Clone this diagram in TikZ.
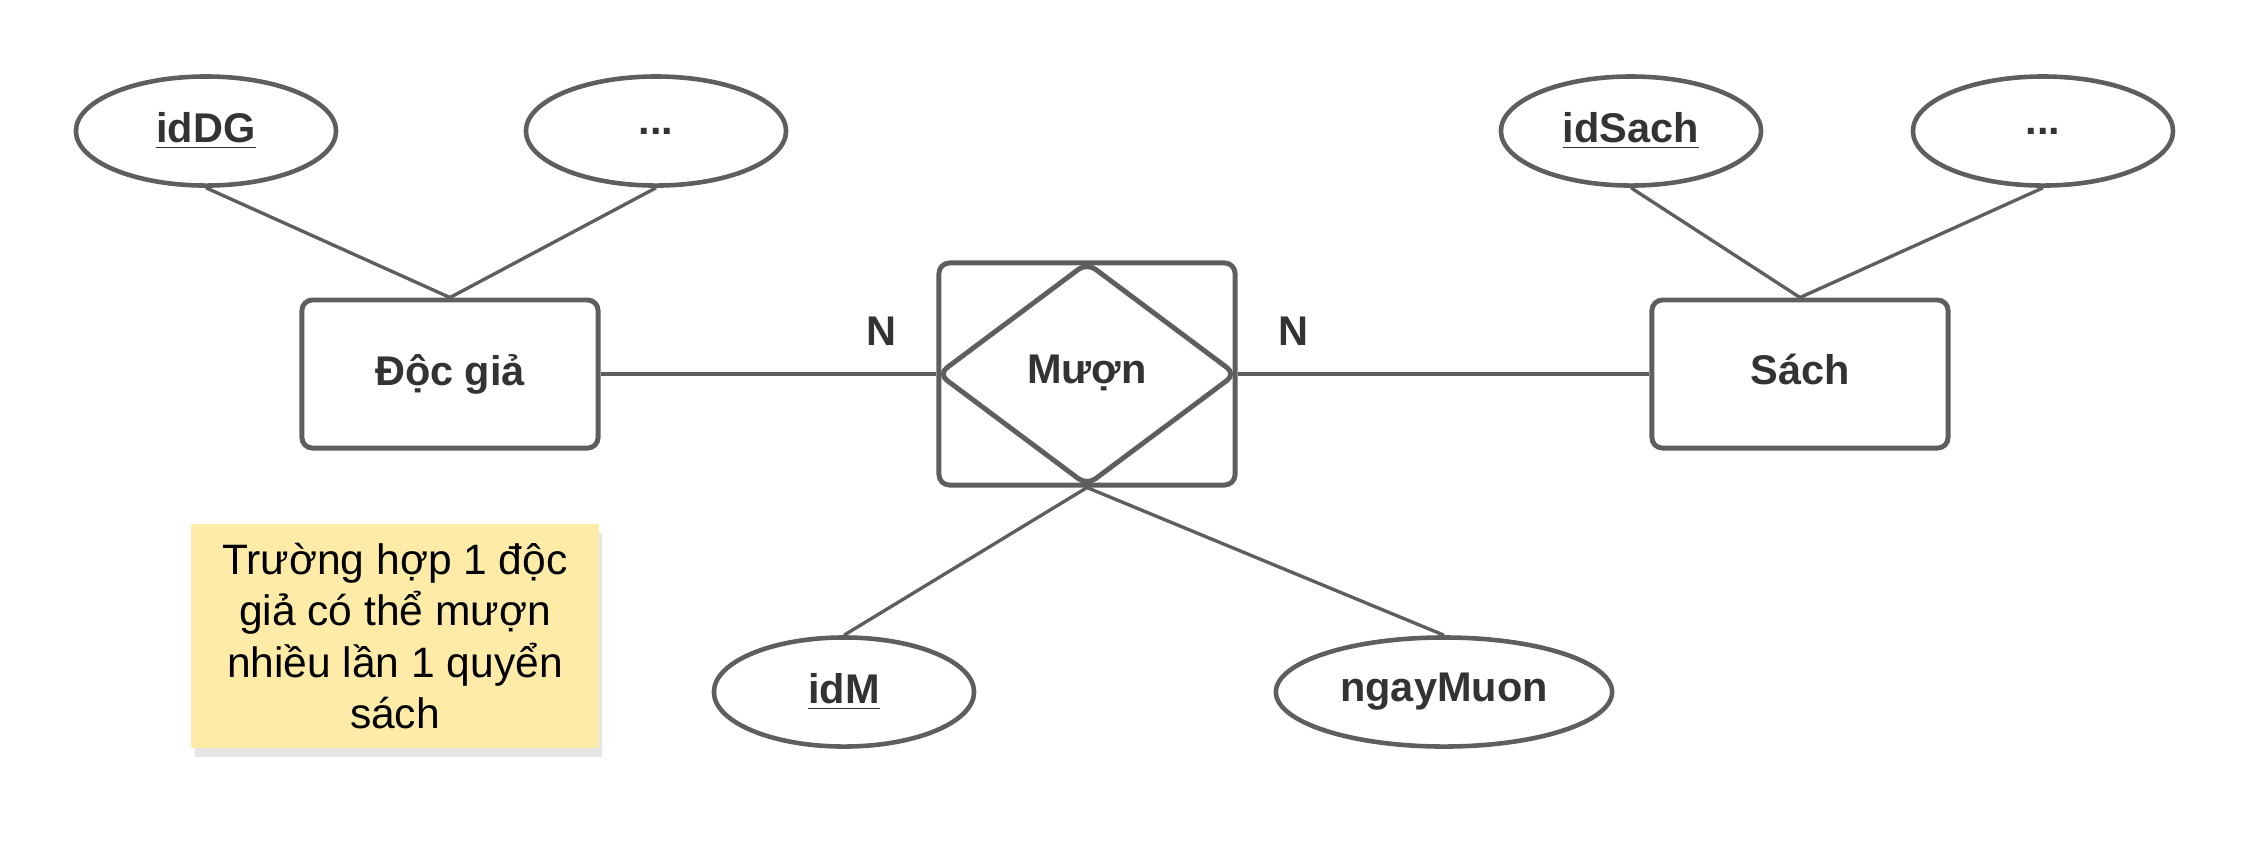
\documentclass[tikz,border=0pt]{standalone}
\usepackage{fontspec}
\setmainfont{Liberation Sans}
\usepackage{xcolor}
\usepackage{tikz}
\usetikzlibrary{positioning,shapes.geometric,shadows}

\definecolor{linegray}{RGB}{94,94,94}
\definecolor{labeltext}{RGB}{51,51,51}
\definecolor{notefill}{RGB}{255,235,168}

\newcommand{\keyattr}[1]{\underline{#1}}

\begin{document}
\begin{tikzpicture}[
  x=0.01cm, y=-0.01cm,
  entity/.style={rectangle, draw=linegray, line width=1.4pt, rounded corners=3pt, minimum width=2.96cm, minimum height=1.48cm, inner sep=0pt, text=labeltext, font=\fontsize{11.8}{14}\selectfont\bfseries},
  attr/.style={ellipse, draw=linegray, line width=1.3pt, minimum width=2.60cm, minimum height=1.09cm, inner sep=0pt, text=labeltext, font=\fontsize{11.8}{14}\selectfont\bfseries},
  rel/.style={diamond, draw=linegray, line width=1.4pt, rounded corners=3pt, minimum width=2.99cm, minimum height=2.24cm, inner sep=0pt, text=labeltext, font=\fontsize{11.8}{14}\selectfont\bfseries},
  card/.style={text=labeltext, font=\fontsize{11.8}{14}\selectfont\bfseries},
  link/.style={draw=linegray, line width=0.95pt}
]
\useasboundingbox (0,0) rectangle (2250,853);

% Entities
\node[entity] (docgia) at (450,374) {Độc giả\vphantom{p}};
\node[entity] (sach) at (1800,374) {Sách\vphantom{p}};

% Associative entity Muon
\node[entity, minimum height=2.22cm] (muonbox) at (1087,374) {};
\node[rel] (muon) at (1087,374) {Mượn\vphantom{p}};

% Attributes
\node[attr] (iddg) at (206,131) {\keyattr{idDG}};
\node[attr] (dgmore) at (656,131) {...};
\node[attr] (idsach) at (1631,131) {\keyattr{idSach}};
\node[attr] (sachmore) at (2043,131) {...};
\node[attr] (idm) at (844,692) {\keyattr{idM}};
\node[attr, minimum width=3.36cm] (ngaymuon) at (1444,692) {ngayMuon};

% Cardinalities
\node[card] (nleft) at (881,331) {N};
\node[card] (nright) at (1293,331) {N};

% Note
\node[rectangle, fill=notefill, minimum width=4.07cm, minimum height=2.24cm, inner sep=0pt, align=center,
  font=\fontsize{12.1}{14.6}\selectfont,
  drop shadow={shadow xshift=1pt, shadow yshift=-2.5pt, opacity=0.2}] (note) at (395,636)
  {Trường hợp 1 độc\\giả có thể mượn\\nhiều lần 1 quyển\\sách};

% Links
\draw[link] (iddg.south) -- (docgia.north);
\draw[link] (dgmore.south) -- (docgia.north);
\draw[link] (idsach.south) -- (sach.north);
\draw[link] (sachmore.south) -- (sach.north);
\draw[link] (docgia.east) -- (muonbox.west);
\draw[link] (muonbox.east) -- (sach.west);
\draw[link] (muonbox.south) -- (idm.north);
\draw[link] (muonbox.south) -- (ngaymuon.north);

\end{tikzpicture}
\end{document}
